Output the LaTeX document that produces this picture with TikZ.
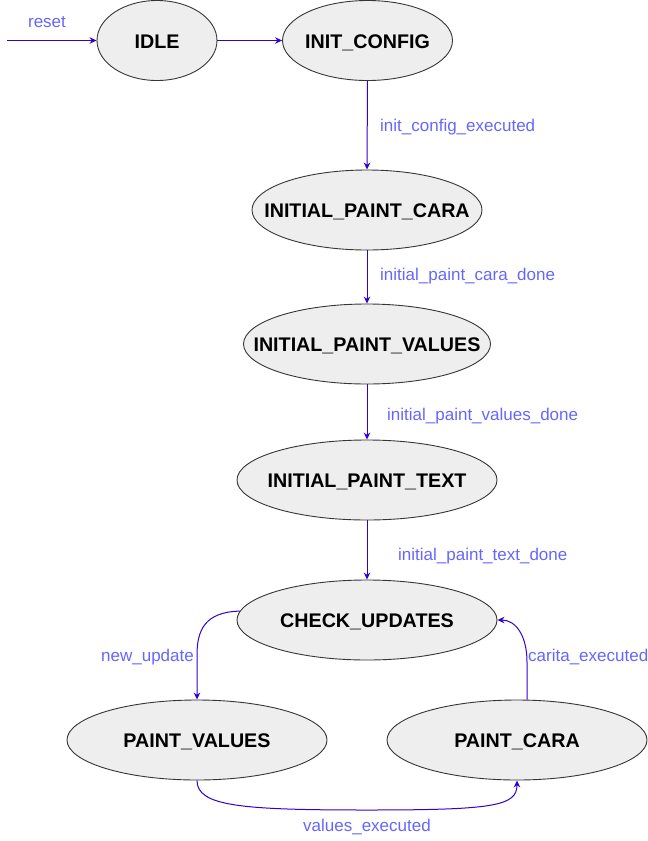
\documentclass[tikz,border=0pt]{standalone}
\usepackage{fontspec}
\setmainfont{Liberation Sans}
\usetikzlibrary{arrows.meta,shapes.geometric}
\definecolor{edgecol}{RGB}{51,0,204}
\definecolor{labcol}{RGB}{102,102,255}
\definecolor{statefill}{RGB}{238,238,238}
\definecolor{stateline}{RGB}{54,54,54}
\newcommand{\sttxt}[1]{\makebox[0pt][c]{\smash{\raisebox{-7.5pt}{#1}}}}
\tikzset{
  state/.style={ellipse, draw=stateline, fill=statefill, line width=0.9pt,
    minimum height=80pt, inner sep=0pt,
    font=\bfseries\fontsize{19.7}{22}\selectfont},
  edge/.style={draw=edgecol, line width=1pt, -{Stealth[length=7pt,width=6.5pt]}},
  lab/.style={text=labcol, inner sep=0pt, yshift=-2pt, font=\fontsize{17}{19}\selectfont}
}
\begin{document}
\begin{tikzpicture}[x=1pt,y=-1pt]
\useasboundingbox (0,0) rectangle (648,841);
\node[state, minimum width=120pt] (idle) at (157,40.5) {\sttxt{IDLE}};
\node[state, minimum width=170pt] (init) at (367.5,40.5) {\sttxt{INIT\_CONFIG}};
\node[state, minimum width=230pt] (ipc) at (367,210) {\sttxt{INITIAL\_PAINT\_CARA}};
\node[state, minimum width=247pt] (ipv) at (367,344) {\sttxt{INITIAL\_PAINT\_VALUES}};
\node[state, minimum width=260pt] (ipt) at (367,480) {\sttxt{INITIAL\_PAINT\_TEXT}};
\node[state, minimum width=260pt] (cu) at (367,620) {\sttxt{CHECK\_UPDATES}};
\node[state, minimum width=260pt] (pv) at (197,740) {\sttxt{PAINT\_VALUES}};
\node[state, minimum width=260pt] (pc) at (517,740) {\sttxt{PAINT\_CARA}};

\coordinate (start) at (7,40.5);
\draw[edge] (start) -- (idle.west);
\draw[edge] (idle.east) -- (init.west);
\draw[edge] (init.south) -- (ipc.north);
\draw[edge] (ipc.south) -- (ipv.north);
\draw[edge] (ipv.south) -- (ipt.north);
\draw[edge] (ipt.south) -- (cu.north);
\draw[edge] (cu.176) .. controls (205,612) and (197,630) .. (197,655) -- (pv.north);
\draw[edge] (pc.76) -- (527,662) .. controls (527,636) and (516,620) .. (cu.east);
\draw[edge] (pv.south) .. controls (197,806) and (240,810) .. (367,810)
  .. controls (494,810) and (517,806) .. (pc.south);

\node[lab] (lreset) at (47,20) {reset};
\node[lab, anchor=west] (l1) at (380,125) {init\_config\_executed};
\node[lab, anchor=west] (l2) at (380,274) {initial\_paint\_cara\_done};
\node[lab, anchor=west] (l3) at (387,414) {initial\_paint\_values\_done};
\node[lab, anchor=west] (l4) at (398,554) {initial\_paint\_text\_done};
\node[lab, anchor=west] (l5) at (101,655) {new\_update};
\node[lab, anchor=west] (l6) at (528,655) {carita\_executed};
\node[lab] (l7) at (367,825) {values\_executed};
\end{tikzpicture}
\end{document}
